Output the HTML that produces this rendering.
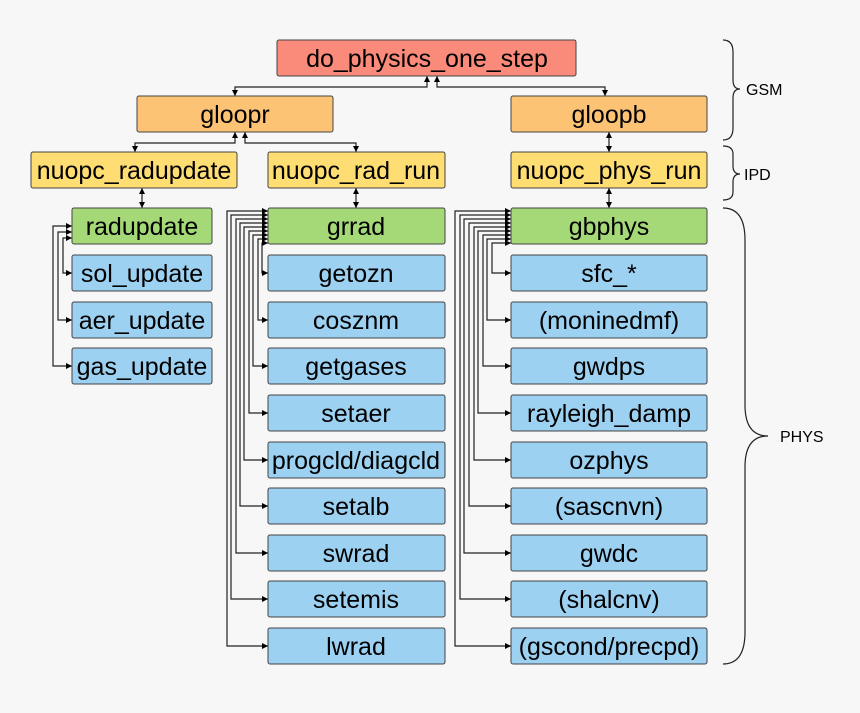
<!DOCTYPE html>
<html><head><style>
body{margin:0;background:#f7f7f7;}
svg{display:block;font-family:"Liberation Sans",sans-serif;}
</style></head><body>
<svg width="860" height="713" viewBox="0 0 860 713" xmlns="http://www.w3.org/2000/svg">
<defs>
<marker id="a" viewBox="0 0 10 10" refX="10" refY="5" markerWidth="6" markerHeight="6" orient="auto-start-reverse" markerUnits="userSpaceOnUse"><path d="M0,0L10,5L0,10z" fill="#000"/></marker>
</defs>
<rect width="860" height="713" fill="#f7f7f7"/>
<g fill="none" stroke="#222" stroke-width="1.2" marker-start="url(#a)" marker-end="url(#a)">
<path d="M427 76V87H235V96"/>
<path d="M437 76V87H605V96"/>
<path d="M235 132V143H135V152"/>
<path d="M245 132V143H356V152"/>
<path d="M609 132V152"/>
<path d="M356 188V208"/>
<path d="M609 188V208"/>
<path d="M142 188V208"/>
<path d="M72 273H63V238H72"/>
<path d="M72 320H58V232H72"/>
<path d="M72 366H53V226H72"/>
<path d="M268 273H262V243H268"/>
<path d="M268 320H258V239H268"/>
<path d="M268 366H253V235H268"/>
<path d="M268 413H249V231H268"/>
<path d="M268 460H244V227H268"/>
<path d="M268 506H240V223H268"/>
<path d="M268 553H236V219H268"/>
<path d="M268 599H231V215H268"/>
<path d="M268 646H227V211H268"/>
<path d="M511 273H492V243H511"/>
<path d="M511 320H487V239H511"/>
<path d="M511 366H483V235H511"/>
<path d="M511 413H478V231H511"/>
<path d="M511 460H474V227H511"/>
<path d="M511 506H469V223H511"/>
<path d="M511 553H464V219H511"/>
<path d="M511 599H460V215H511"/>
<path d="M511 646H455V211H511"/>
</g>
<g stroke="#444" stroke-width="1" font-size="25" text-anchor="middle">
<rect x="277" y="40" width="299" height="36" rx="2" fill="#fa8a7a"/>
<rect x="137" y="96" width="196" height="36" rx="2" fill="#fdc375"/>
<rect x="511" y="96" width="196" height="36" rx="2" fill="#fdc375"/>
<rect x="31" y="152" width="206" height="36" rx="2" fill="#fedd72"/>
<rect x="268" y="152" width="177" height="36" rx="2" fill="#fedd72"/>
<rect x="511" y="152" width="196" height="36" rx="2" fill="#fedd72"/>
<rect x="72" y="208" width="140" height="36" rx="2" fill="#a5d978"/>
<rect x="268" y="208" width="177" height="36" rx="2" fill="#a5d978"/>
<rect x="511" y="208" width="196" height="36" rx="2" fill="#a5d978"/>
<g fill="#9dd1f2">
<rect x="72" y="255" width="140" height="36" rx="2"/>
<rect x="72" y="302" width="140" height="36" rx="2"/>
<rect x="72" y="348" width="140" height="36" rx="2"/>
<rect x="268" y="255" width="177" height="36" rx="2"/>
<rect x="268" y="302" width="177" height="36" rx="2"/>
<rect x="268" y="348" width="177" height="36" rx="2"/>
<rect x="268" y="395" width="177" height="36" rx="2"/>
<rect x="268" y="442" width="177" height="36" rx="2"/>
<rect x="268" y="488" width="177" height="36" rx="2"/>
<rect x="268" y="535" width="177" height="36" rx="2"/>
<rect x="268" y="581" width="177" height="36" rx="2"/>
<rect x="268" y="628" width="177" height="36" rx="2"/>
<rect x="511" y="255" width="196" height="36" rx="2"/>
<rect x="511" y="302" width="196" height="36" rx="2"/>
<rect x="511" y="348" width="196" height="36" rx="2"/>
<rect x="511" y="395" width="196" height="36" rx="2"/>
<rect x="511" y="442" width="196" height="36" rx="2"/>
<rect x="511" y="488" width="196" height="36" rx="2"/>
<rect x="511" y="535" width="196" height="36" rx="2"/>
<rect x="511" y="581" width="196" height="36" rx="2"/>
<rect x="511" y="628" width="196" height="36" rx="2"/>
</g>
<g stroke="none" fill="#000">
<text x="427" y="67">do_physics_one_step</text>
<text x="235" y="123">gloopr</text>
<text x="609" y="123">gloopb</text>
<text x="134" y="179">nuopc_radupdate</text>
<text x="356" y="179">nuopc_rad_run</text>
<text x="609" y="179">nuopc_phys_run</text>
<text x="142" y="235">radupdate</text>
<text x="356" y="235">grrad</text>
<text x="609" y="235">gbphys</text>
<text x="142" y="282">sol_update</text>
<text x="142" y="329">aer_update</text>
<text x="142" y="375">gas_update</text>
<text x="356" y="282">getozn</text>
<text x="356" y="329">cosznm</text>
<text x="356" y="375">getgases</text>
<text x="356" y="422">setaer</text>
<text x="356" y="469">progcld/diagcld</text>
<text x="356" y="515">setalb</text>
<text x="356" y="562">swrad</text>
<text x="356" y="608">setemis</text>
<text x="356" y="655">lwrad</text>
<text x="609" y="282">sfc_*</text>
<text x="609" y="329">(moninedmf)</text>
<text x="609" y="375">gwdps</text>
<text x="609" y="422">rayleigh_damp</text>
<text x="609" y="469">ozphys</text>
<text x="609" y="515">(sascnvn)</text>
<text x="609" y="562">gwdc</text>
<text x="609" y="608">(shalcnv)</text>
<text x="609" y="655">(gscond/precpd)</text>
</g>
</g>
<g fill="none" stroke="#222" stroke-width="1.2">
<path d="M723 40Q733 40 733 52V80Q733 89 740 89Q733 89 733 98V128Q733 140 723 140"/>
<path d="M723 146Q733 146 733 154V166Q733 174 740 174Q733 174 733 182V192Q733 200 723 200"/>
<path d="M723 208Q745 208 745 240V405Q745 436 768 436Q745 436 745 467V632Q745 664 723 664"/>
</g>
<g font-size="16" fill="#000">
<text x="746" y="95">GSM</text>
<text x="744" y="180">IPD</text>
<text x="780" y="442">PHYS</text>
</g>
</svg>
</body></html>
